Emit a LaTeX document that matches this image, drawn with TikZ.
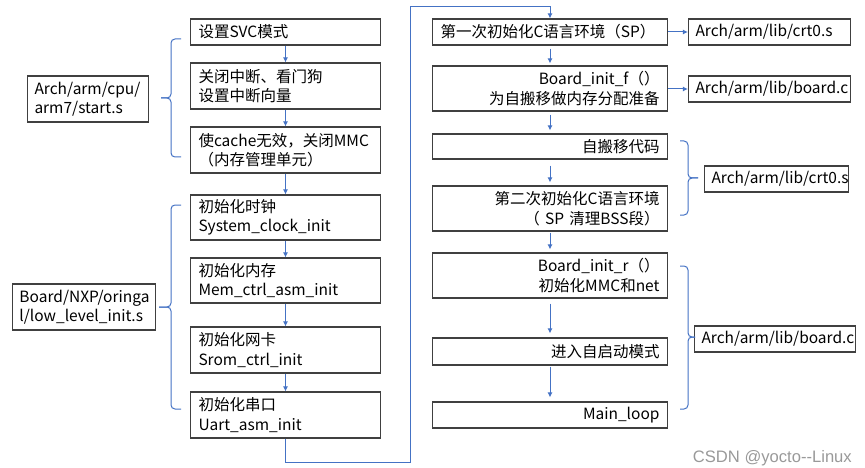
\documentclass[tikz,border=0pt]{standalone}
\usepackage{fontspec}
\setmainfont{Noto Sans CJK SC}
\newfontfamily\markfont{Liberation Sans}
\usepackage{xcolor}
\usetikzlibrary{arrows.meta,positioning}
\definecolor{flowblue}{RGB}{68,114,196}
\definecolor{boxgray}{RGB}{64,64,64}
\newcommand{\boxfont}{\fontsize{15.5pt}{19.5pt}\selectfont}
\tikzstyle{leftbox} = [rectangle, draw=boxgray, line width=1.1pt, text width=174pt, minimum height=26pt, inner xsep=8pt, inner ysep=0pt, align=left, font=\boxfont]
\tikzstyle{rightbox} = [rectangle, draw=boxgray, line width=1.1pt, text width=219pt, minimum height=26pt, inner xsep=8pt, inner ysep=0pt, align=right, font=\boxfont]
\tikzstyle{filebox} = [rectangle, draw=boxgray, line width=1.1pt, minimum height=26pt, inner xsep=7pt, inner ysep=0pt, align=left, font=\boxfont]
\tikzstyle{tall} = [minimum height=46pt]
\tikzstyle{flow} = [flowblue, line width=1pt, -{Latex[length=5pt,width=5pt]}]
\tikzstyle{brace} = [flowblue, line width=1pt, rounded corners=4pt]

\begin{document}
\begin{tikzpicture}[x=1pt, y=-1pt]
\useasboundingbox (0,0) rectangle (865,468);

% start.s steps
\node [leftbox] (svc) at (285.5,32) {设置SVC模式};
\node [leftbox, tall] (irq) at (285.5,86) {关闭中断、看门狗\\设置中断向量};
\node [leftbox, tall] (cache) at (285.5,150) {使cache无效，关闭MMC\\（内存管理单元）};

% low_level_init steps
\node [leftbox, minimum height=45pt] (clock) at (285.5,217.5) {初始化时钟\\System\_clock\_init};
\node [leftbox, minimum height=45pt] (mem) at (285.5,280.5) {初始化内存\\Mem\_ctrl\_asm\_init};
\node [leftbox, tall] (srom) at (285.5,350) {初始化网卡\\Srom\_ctrl\_init};
\node [leftbox, tall] (uart) at (285.5,415) {初始化串口\\Uart\_asm\_init};

% source files, left
\node [filebox, tall, text width=107pt] (startfile) at (88,99) {Arch/arm/cpu/\\arm7/start.s};
\node [filebox, tall, text width=129pt] (lowfile) at (84,307) {Board/NXP/oringa\\l/low\_level\_init.s};

% crt0 / board.c steps
\node [rightbox, align=left] (crtA) at (550,32) {第一次初始化C语言环境（SP）};
\node [rightbox, minimum height=45pt] (boardf) at (550,88.5) {Board\_init\_f（）\\为自搬移做内存分配准备};
\node [rightbox, minimum height=25pt] (reloc) at (550,146.5) {自搬移代码};
\node [rightbox, minimum height=45pt] (crtB) at (550,208.5) {第二次初始化C语言环境\\（ SP 清理BSS段）};
\node [rightbox, minimum height=45pt] (boardr) at (550,275.5) {Board\_init\_r（）\\初始化MMC和net};
\node [rightbox, minimum height=27pt] (autoboot) at (550,351.5) {进入自启动模式};
\node [rightbox] (mainloop) at (550,415) {Main\_loop};

% source files, right
\node [filebox, text width=148pt] (crtfileA) at (769.5,32) {Arch/arm/lib/crt0.s};
\node [filebox, text width=148pt] (boardfileA) at (769.5,89) {Arch/arm/lib/board.c};
\node [filebox, text width=130pt] (crtfileB) at (776.5,179) {Arch/arm/lib/crt0.s};
\node [filebox, text width=147pt] (boardfileB) at (775,339) {Arch/arm/lib/board.c};

% Arrows
\draw [flow] (svc) -- (irq);
\draw [flow] (irq) -- (cache);
\draw [flow] (cache) -- (clock);
\draw [flow] (clock) -- (mem);
\draw [flow] (mem) -- (srom);
\draw [flow] (srom) -- (uart);
\coordinate (loopA) at (410,462);
\coordinate (loopB) at (410,7);
\draw [flow] (uart.south) |- (loopA) -- (loopB) -| (crtA.north);
\draw [flow, shorten <=3pt, shorten >=2pt] (crtA) -- (boardf);
\draw [flow, shorten <=3pt, shorten >=3pt] (boardf) -- (reloc);
\draw [flow, shorten <=6pt, shorten >=3pt] (reloc) -- (crtB);
\draw [flow, shorten <=1pt, shorten >=3pt] (crtB) -- (boardr);
\draw [flow, shorten <=5pt, shorten >=4pt] (boardr) -- (autoboot);
\draw [flow, shorten <=1pt, shorten >=4pt] (autoboot) -- (mainloop);
\draw [flow] (crtA) -- (crtfileA);
\draw [flow] (boardf.east |- boardfileA) -- (boardfileA);

% Braces
\draw [brace] (181,39) -- (171,39) -- (171,98) -- (161,98);
\draw [brace] (161,98) -- (171,98) -- (171,157) -- (181,157);
\draw [brace] (181,205) -- (171,205) -- (171,307) -- (159,307);
\draw [brace] (159,307) -- (171,307) -- (171,409) -- (181,409);
\draw [brace] (680,141) -- (688,141) -- (688,178) -- (698,178);
\draw [brace] (698,178) -- (688,178) -- (688,215) -- (680,215);
\draw [brace] (680,266) -- (688,266) -- (688,337) -- (695,337);
\draw [brace] (695,337) -- (688,337) -- (688,409) -- (680,409);

% Watermark
\node [font=\markfont\fontsize{16.6pt}{20pt}\selectfont, text=black!40, anchor=east, inner sep=0pt] (mark) at (852,458) {CSDN @yocto{-}{-}Linux};

\end{tikzpicture}
\end{document}
